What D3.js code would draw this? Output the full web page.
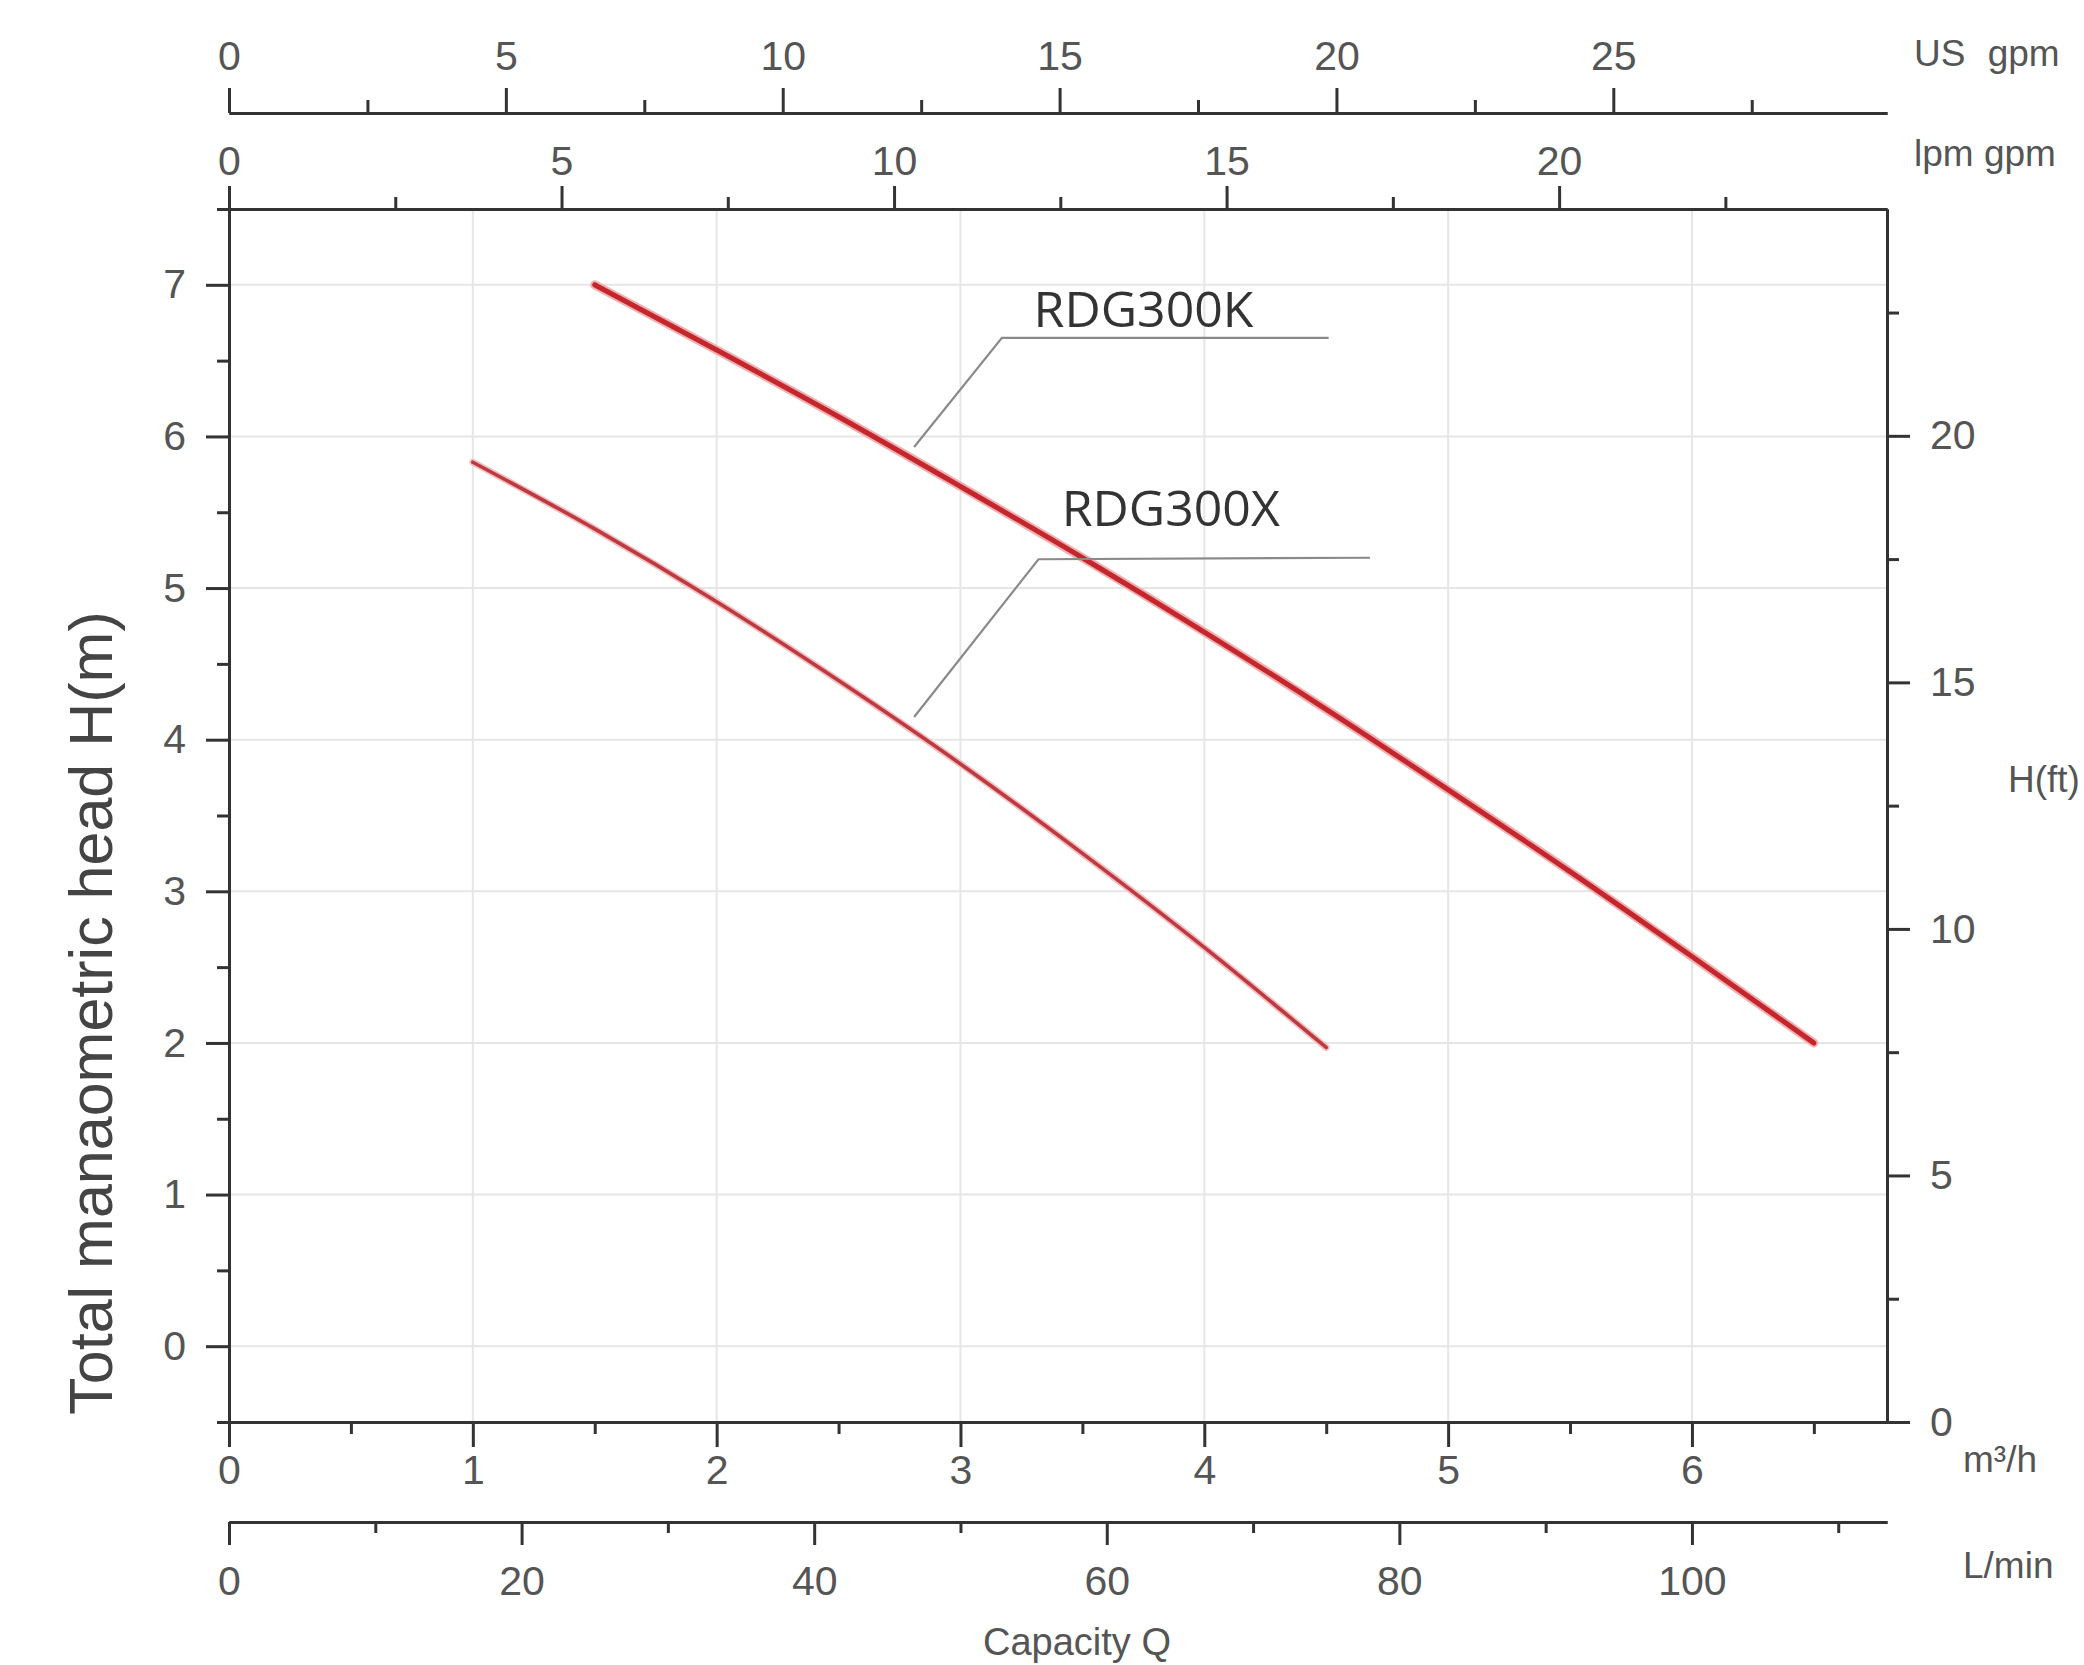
<!DOCTYPE html>
<html><head><meta charset="utf-8">
<script src="https://cdn.jsdelivr.net/npm/d3@7"></script>
<style>
html,body{margin:0;padding:0;background:#fff;}
svg{display:block;}
</style></head><body>
<svg id="chart" width="2084" height="1665"></svg>
<script>
// ---- data ----
const seriesNames = ["RDG300K", "RDG300X"];
const flowK = [1.5, 2.0, 2.5, 3.0, 3.5, 4.0, 4.5, 5.0, 5.5, 6.0, 6.5];
const headK = [7.0, 6.57, 6.13, 5.67, 5.2, 4.71, 4.2, 3.67, 3.13, 2.57, 2.0];
const flowX = [1.0, 1.5, 2.0, 2.5, 3.0, 3.5, 4.0, 4.5];
const headX = [5.83, 5.39, 4.91, 4.39, 3.84, 3.25, 2.63, 1.97];

// tick labels
const m3hTicks = [0, 1, 2, 3, 4, 5, 6];
const m3hMinor = [0.5, 1.5, 2.5, 3.5, 4.5, 5.5, 6.5];
const lminTicks = [0, 20, 40, 60, 80, 100];
const lminMinor = [10, 30, 50, 70, 90, 110];
const usGpmTicks = [0, 5, 10, 15, 20, 25];
const usGpmMinor = [2.5, 7.5, 12.5, 17.5, 22.5, 27.5];
const impGpmTicks = [0, 5, 10, 15, 20];
const impGpmMinor = [2.5, 7.5, 12.5, 17.5, 22.5];
const headMTicks = [0, 1, 2, 3, 4, 5, 6, 7];
const headMMinor = [-0.5, 0.5, 1.5, 2.5, 3.5, 4.5, 5.5, 6.5, 7.5];
const headFtTicks = [0, 5, 10, 15, 20];
const headFtMinor = [2.5, 7.5, 12.5, 17.5, 22.5];

// annotation anchors (in data units: m3/h, m)
const labelPos = [[3.30, 6.72], [3.415, 5.41]];
const leaderK = [[2.81, 5.93], [3.17, 6.65], [4.51, 6.65]];
const leaderX = [[2.81, 4.15], [3.32, 5.19], [4.68, 5.20]];

// ---- layout ----
const L = 229, R = 1887, T = 209, B = 1422;
const svg = d3.select("#chart");
const axisFont = "'Liberation Sans', Arial, sans-serif";

const x = d3.scaleLinear().domain([0, 6.8]).range([L, R]);
const y = d3.scaleLinear().domain([-0.5, 7.5]).range([B, T]);
const xL = d3.scaleLinear().domain([0, 6.8 * 1000 / 60]).range([L, R]);
const xUS = d3.scaleLinear().domain([0, 6.8 * 1000 / 60 / 3.785]).range([L, R]);
const xImp = d3.scaleLinear().domain([0, 6.8 * 1000 / 60 / 4.546]).range([L, R]);
const yFt = d3.scaleLinear().domain([0, 24.6]).range([B, T]);

// grid
const grid = svg.append("g").attr("stroke", "#e6e6e6").attr("stroke-width", 2);
grid.selectAll("line.v").data(m3hTicks.filter(d => d > 0)).join("line").attr("class", "v")
  .attr("x1", d => x(d)).attr("x2", d => x(d)).attr("y1", T).attr("y2", B);
grid.selectAll("line.h").data(headMTicks).join("line").attr("class", "h")
  .attr("y1", d => y(d)).attr("y2", d => y(d)).attr("x1", L).attr("x2", R);

function styleAxis(g, size) {
  g.select(".domain").attr("stroke", "#333").attr("stroke-width", 3);
  g.selectAll(".tick line").attr("stroke", "#333").attr("stroke-width", 3);
  g.selectAll(".tick text").attr("fill", "#555").style("font-family", axisFont).style("font-size", size + "px");
}
function addAxis(axisFn, scale, transform, major, minor, majorSize, minorSize, pad, fontSize) {
  const gMin = svg.append("g").attr("transform", transform)
    .call(axisFn(scale).tickValues(minor).tickSize(minorSize).tickSizeOuter(0).tickFormat(""));
  styleAxis(gMin, fontSize);
  const g = svg.append("g").attr("transform", transform)
    .call(axisFn(scale).tickValues(major).tickSize(majorSize).tickSizeOuter(0).tickPadding(pad).tickFormat(d3.format("d")));
  styleAxis(g, fontSize);
  return g;
}

addAxis(d3.axisLeft, y, `translate(${L},0)`, headMTicks, headMMinor, 23, 12, 20, 41);
addAxis(d3.axisRight, yFt, `translate(${R},0)`, headFtTicks, headFtMinor, 23, 12, 20, 41);
addAxis(d3.axisBottom, x, `translate(0,${B})`, m3hTicks, m3hMinor, 25, 12, 8, 41);
addAxis(d3.axisBottom, xL, `translate(0,1522)`, lminTicks, lminMinor, 23, 11, 21, 41);
addAxis(d3.axisTop, xUS, `translate(0,113)`, usGpmTicks, usGpmMinor, 25, 13, 18, 41);
addAxis(d3.axisTop, xImp, `translate(0,${T})`, impGpmTicks, impGpmMinor, 23, 12, 11, 41);

// curves
const line = d3.line().x(d => x(d[0])).y(d => y(d[1])).curve(d3.curveMonotoneX);
const dataK = flowK.map((f, i) => [f, headK[i]]);
const dataX = flowX.map((f, i) => [f, headX[i]]);
svg.append("path").datum(dataK).attr("d", line).attr("fill", "none")
  .attr("stroke", "#f0b0b0").attr("stroke-width", 9).attr("stroke-linecap", "round");
svg.append("path").datum(dataK).attr("d", line).attr("fill", "none")
  .attr("stroke", "#c4262e").attr("stroke-width", 5).attr("stroke-linecap", "round");
svg.append("path").datum(dataX).attr("d", line).attr("fill", "none")
  .attr("stroke", "#f2c0c0").attr("stroke-width", 7).attr("stroke-linecap", "round");
svg.append("path").datum(dataX).attr("d", line).attr("fill", "none")
  .attr("stroke", "#bd3a42").attr("stroke-width", 3.6).attr("stroke-linecap", "round");

// annotations
const lead = d3.line().x(d => x(d[0])).y(d => y(d[1]));
[leaderK, leaderX].forEach(pts => {
  svg.append("path").attr("d", lead(pts)).attr("fill", "none")
    .attr("stroke", "#8a8a8a").attr("stroke-width", 2.2);
});
seriesNames.forEach((n, i) => {
  svg.append("text").attr("x", x(labelPos[i][0])).attr("y", y(labelPos[i][1]))
    .attr("fill", "#333").style("font-family", "'Open Sans', sans-serif")
    .style("font-size", "50px").text(n);
});

// unit labels
const unit = (t, xx, yy, extra) => {
  const e = svg.append("text").attr("x", xx).attr("y", yy).attr("fill", "#555")
    .style("font-family", axisFont).style("font-size", "37px").text(t);
  if (extra) e.style("word-spacing", extra);
  return e;
};
unit("US gpm", 1914, 66, "12px");
unit("lpm gpm", 1914, 166);
unit("m³/h", 1963, 1472);
unit("L/min", 1963, 1578);
unit("H(ft)", 2008, 792);

// axis titles
svg.append("text").attr("transform", "translate(112,1013) rotate(-90)")
  .attr("text-anchor", "middle").attr("fill", "#444")
  .style("font-family", axisFont).style("font-size", "61px")
  .text("Total manaometric head H(m)");
svg.append("text").attr("x", 1077).attr("y", 1655).attr("text-anchor", "middle")
  .attr("fill", "#555").style("font-family", axisFont).style("font-size", "38px")
  .text("Capacity Q");
</script>
</body></html>
